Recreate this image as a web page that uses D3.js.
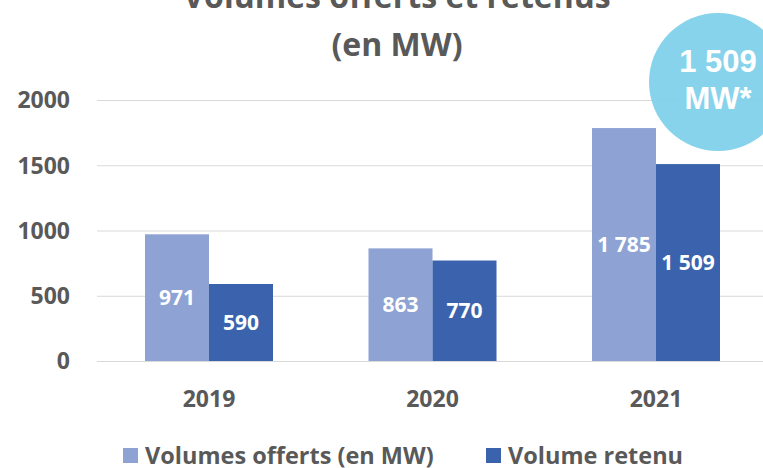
<!DOCTYPE html>
<html lang="fr">
  <head>
    <meta charset="utf-8">
    <title>Volumes offerts et retenus</title>
    <script src="https://d3js.org/d3.v7.min.js"></script>
    <style>
      body {
        margin: 0;
        background: white;
      }
      text {
        font-family: "Open Sans", sans-serif;
        font-weight: bold;
      }
    </style>
  </head>
  <body>
    <svg width="763" height="468"></svg>
    <script>
      var years = ["2019", "2020", "2021"];
      var offered = [971, 863, 1785];
      var retained = [590, 770, 1509];
      var seriesNames = ["Volumes offerts (en MW)", "Volume retenu"];
      var colors = ["#8EA3D4", "#3B63AD"];
      var yTicks = [0, 500, 1000, 1500, 2000];
      var titleLines = ["Volumes offerts et retenus", "(en MW)"];
      var badgeLines = ["1 509", "MW*"];

      var svg = d3.select("svg");
      var grey = "#595959";

      var y = d3.scaleLinear().domain([0, 2000]).range([361, 100]);
      var x = d3.scaleBand().domain(years).range([49.5, 815.5]).padding(0.4273);
      var xs = d3.scaleBand().domain([0, 1]).range([0, x.bandwidth()]);

      // gridlines
      svg.append("g").selectAll("line").data(yTicks).enter().append("line")
        .attr("x1", 97).attr("x2", 763)
        .attr("y1", function(d) { return y(d) + 0.5; })
        .attr("y2", function(d) { return y(d) + 0.5; })
        .attr("stroke", "#D9D9D9").attr("stroke-width", 1.2);

      // y axis labels
      svg.append("g").selectAll("text").data(yTicks).enter().append("text")
        .attr("x", 70).attr("y", function(d) { return y(d); })
        .attr("dy", "0.36em").attr("text-anchor", "end")
        .attr("font-size", 23).attr("fill", grey)
        .text(function(d) { return d; });

      // bars
      var rows = years.map(function(yr, i) {
        return {year: yr, values: [offered[i], retained[i]]};
      });
      var groups = svg.append("g").selectAll("g").data(rows).enter().append("g")
        .attr("transform", function(d) { return "translate(" + x(d.year) + ",0)"; });
      groups.selectAll("rect").data(function(d) { return d.values; }).enter().append("rect")
        .attr("x", function(d, i) { return xs(i); })
        .attr("width", xs.bandwidth())
        .attr("y", function(d) { return y(d); })
        .attr("height", function(d) { return y(0) - y(d); })
        .attr("fill", function(d, i) { return colors[i]; });
      groups.selectAll("text").data(function(d) { return d.values; }).enter().append("text")
        .attr("x", function(d, i) { return xs(i) + xs.bandwidth() / 2; })
        .attr("y", function(d) { return (y(d) + y(0)) / 2; })
        .attr("dy", "0.36em").attr("text-anchor", "middle")
        .attr("font-size", 21).attr("fill", "white")
        .text(function(d) { return d3.format(",")(d).replace(",", " "); });

      // x axis labels
      svg.append("g").selectAll("text").data(years).enter().append("text")
        .attr("x", function(d) { return x(d) + x.bandwidth() / 2; })
        .attr("y", 407).attr("text-anchor", "middle")
        .attr("font-size", 23).attr("fill", grey)
        .text(function(d) { return d; });

      // title
      svg.append("g").selectAll("text").data(titleLines).enter().append("text")
        .attr("x", 397).attr("y", function(d, i) { return 8 + i * 48; })
        .attr("text-anchor", "middle")
        .attr("font-size", 32).attr("fill", grey)
        .text(function(d) { return d; });

      // legend
      var legendX = [123, 486];
      var legend = svg.append("g").selectAll("g").data(seriesNames).enter().append("g")
        .attr("transform", function(d, i) { return "translate(" + legendX[i] + ",0)"; });
      legend.append("rect").attr("x", 0).attr("y", 448)
        .attr("width", 15).attr("height", 15)
        .attr("fill", function(d, i) { return colors[i]; });
      legend.append("text").attr("x", 22).attr("y", 464)
        .attr("font-size", 23.5).attr("fill", grey)
        .text(function(d) { return d; });

      // badge
      svg.append("circle").attr("cx", 718).attr("cy", 82).attr("r", 69)
        .attr("fill", "#7ED0EB").attr("fill-opacity", 0.93);
      svg.append("g").selectAll("text").data(badgeLines).enter().append("text")
        .attr("x", 718).attr("y", function(d, i) { return 72 + i * 37; })
        .attr("text-anchor", "middle")
        .style("font-family", "'Liberation Sans', Arial, sans-serif")
        .attr("font-size", 31).attr("fill", "white")
        .text(function(d) { return d; });
    </script>
  </body>
</html>
